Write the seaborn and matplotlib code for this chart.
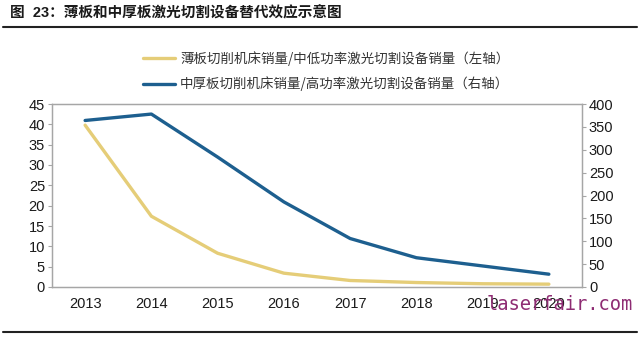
import matplotlib
matplotlib.use("Agg")
import matplotlib.pyplot as plt
import seaborn as sns
import pandas as pd
from matplotlib.lines import Line2D

years = [2013, 2014, 2015, 2016, 2017, 2018, 2019, 2020]
thin_sales = [39.8, 17.4, 8.3, 3.4, 1.6, 1.1, 0.8, 0.7]          # left axis
thick_sales = [364, 378, 284, 186, 106, 64, 46, 28]             # right axis
left_ticks = [0, 5, 10, 15, 20, 25, 30, 35, 40, 45]
right_ticks = [0, 50, 100, 150, 200, 250, 300, 350, 400]
label_thin = "薄板切削机床销量/中低功率激光切割设备销量（左轴）"
label_thick = "中厚板切削机床销量/高功率激光切割设备销量（右轴）"
title = "图  23：薄板和中厚板激光切割设备替代效应示意图"

sns.set_theme(style="white")
plt.rcParams["font.family"] = ["Liberation Sans", "Noto Sans CJK SC", "DejaVu Sans"]

df = pd.DataFrame({"year": years, "thin": thin_sales, "thick": thick_sales})

YELLOW = "#E5CD78"
BLUE = "#1D5F8F"
GRAY = "#A6A6A6"

fig = plt.figure(figsize=(6.4, 3.37), dpi=100)
ax = fig.add_axes([52/640, 1-287/337, 530/640, 183/337])
ax2 = ax.twinx()

sns.lineplot(data=df, x="year", y="thin", ax=ax, color=YELLOW, linewidth=2.4, legend=False)
sns.lineplot(data=df, x="year", y="thick", ax=ax2, color=BLUE, linewidth=2.4, legend=False)

ax.set_xlim(2012.5, 2020.5)
ax.set_ylim(0, 45)
ax2.set_ylim(0, 400)
ax.set_yticks(left_ticks)
ax2.set_yticks(right_ticks)
ax.set_xticks(years)
ax.set_xticklabels([str(y) for y in years])
ax.set_xlabel("")
ax.set_ylabel("")
ax2.set_ylabel("")

for a in (ax, ax2):
    for s in a.spines.values():
        s.set_color(GRAY)
        s.set_linewidth(0.9)
    a.tick_params(axis="y", colors=GRAY, labelcolor="#1a1a1a", labelsize=10.5, length=3, width=0.8, direction="out", pad=2)
ax.tick_params(axis="y", left=True, right=False)
ax2.tick_params(axis="y", right=True, left=False)
ax.tick_params(axis="x", length=0, labelsize=10.5, labelcolor="#1a1a1a", pad=7)

handles = [Line2D([], [], color=YELLOW, linewidth=2.4), Line2D([], [], color=BLUE, linewidth=2.4)]
fig.legend(handles, [label_thin, label_thick], loc="upper left", bbox_to_anchor=(131/640, 1-39/337),
           frameon=False, prop={"family": ["Noto Sans CJK SC"], "size": 9.7},
           handlelength=2.4, handletextpad=0.35, labelspacing=0.8, labelcolor="#333333")

fig.text(10/640, 1-13/337, title, ha="left", va="center", fontsize=10.5, fontweight="bold",
         color="#1a1a1a", family=["Liberation Sans", "Noto Sans CJK SC"])
fig.add_artist(Line2D([3/640, 637/640], [1-27/337, 1-27/337], color="#222222", linewidth=1.5))
fig.add_artist(Line2D([3/640, 637/640], [1-332/337, 1-332/337], color="#222222", linewidth=1.5))

fig.text(633/640, 1-305/337, "laserfair.com", ha="right", va="center", fontsize=13.5,
         color="#8E2C73", family="DejaVu Sans Mono")

fig.savefig("out.png", dpi=100)
